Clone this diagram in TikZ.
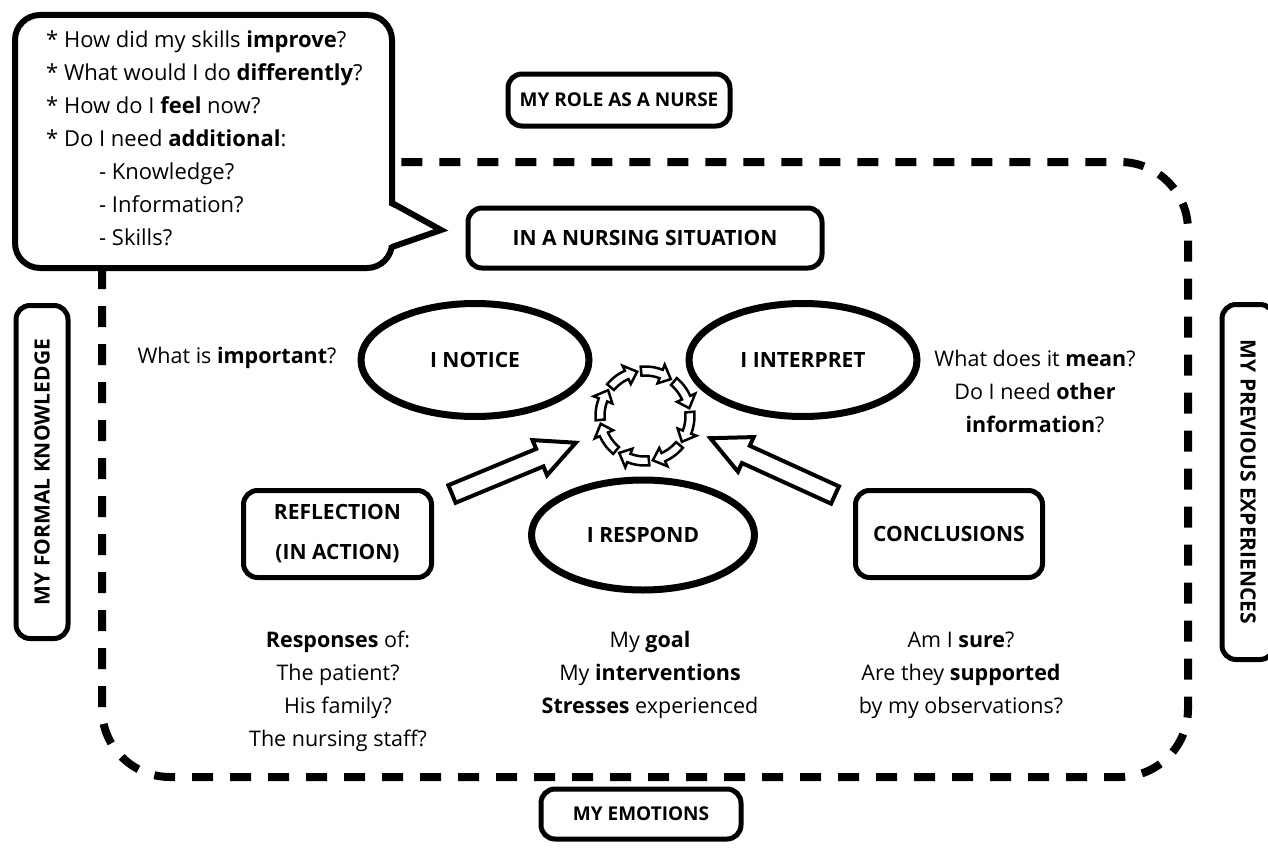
\documentclass[tikz,border=0pt]{standalone}
\usepackage{fontspec}
\setmainfont{Open Sans}
\usetikzlibrary{shapes.geometric}
\begin{document}
\begin{tikzpicture}[x=1pt,y=-1pt,
  box/.style={draw, line width=5pt, rounded corners=14pt, fill=white, inner sep=0pt,
    font=\fontsize{21}{40}\selectfont\bfseries, align=center},
  sidebox/.style={box, font=\fontsize{19}{24}\selectfont\bfseries},
  vertbox/.style={box, font=\fontsize{21}{24}\selectfont\bfseries},
  oval/.style={draw, ellipse, line width=7pt, fill=white, inner sep=0pt,
    minimum width=228, minimum height=113, font=\fontsize{21}{24}\selectfont\bfseries},
  body/.style={align=center, font=\fontsize{21.5}{33}\selectfont, inner sep=0pt},
  blockarrow/.style={draw, line width=4pt, fill=white, line join=miter},
  ringarrow/.style={draw, line width=2.5pt, fill=white, line join=miter}]
\useasboundingbox (0,0) rectangle (1268,867);

% dashed frame
\draw[line width=8pt, dash pattern=on 21pt off 17pt, rounded corners=68pt]
  (102,162) rectangle (1188,777);

% callout
\draw[line width=6pt, fill=white, rounded corners=25pt] (15,15) rectangle (392,268);
\fill[white] (386,204) -- (441,230) -- (386,246) -- cycle;
\draw[line width=6pt, line join=miter] (392,203) -- (441,230) -- (392,247);
\node[anchor=north west, align=left, inner sep=0pt, font=\fontsize{22}{33}\selectfont] (callout) at (46,31)
 {* How did my skills \textbf{improve}?\\
  * What would I do \textbf{differently}?\\
  * How do I \textbf{feel} now?\\
  * Do I need \textbf{additional}:\\
  \hspace*{53pt}- Knowledge?\\
  \hspace*{53pt}- Information?\\
  \hspace*{53pt}- Skills?};

% boxes
\node[sidebox, minimum width=222, minimum height=52] (role) at (619,100) {MY ROLE AS A NURSE};
\node[box, minimum width=354, minimum height=60] (sit) at (645,238) {IN A NURSING SITUATION};
\node[box, minimum width=188, minimum height=87] (refl) at (337.5,534) {REFLECTION\\(IN ACTION)};
\node[box, minimum width=187, minimum height=87] (concl) at (949,534) {CONCLUSIONS};
\node[vertbox, minimum width=333, minimum height=52, rotate=90] (formal) at (42,472) {MY FORMAL KNOWLEDGE};
\node[vertbox, minimum width=355, minimum height=52, rotate=-90] (prev) at (1248,482) {MY PREVIOUS EXPERIENCES};
\node[sidebox, minimum width=200, minimum height=50] (emo) at (641,814) {MY EMOTIONS};

% ellipses
\node[oval] (notice) at (475,360) {I NOTICE};
\node[oval] (interp) at (803,360) {I INTERPRET};
\node[oval, minimum width=223, minimum height=110] (respond) at (643,535) {I RESPOND};

% block arrows
\coordinate (la) at (452,494);
\coordinate (ra) at (835,495);
\begin{scope}[shift={(la)}, rotate=22.5]
  \draw[blockarrow] (0,-9.5) -- (95,-9.5) -- (95,-19) -- (134,0) -- (95,19) -- (95,9.5) -- (0,9.5) -- cycle;
\end{scope}
\begin{scope}[shift={(ra)}, rotate=155.5]
  \draw[blockarrow] (0,-9.5) -- (98,-9.5) -- (98,-19) -- (137,0) -- (98,19) -- (98,9.5) -- (0,9.5) -- cycle;
\end{scope}

% ring of arrows
\def\cx{645}\def\cy{416}\def\rr{45}
\foreach \a in {-140,-95,-50,-5,40,85,130,175}{
  \pgfmathsetmacro{\b}{\a+40}
  \pgfmathsetmacro{\h}{\a+26}
  \draw[ringarrow]
    plot[domain=\a:\h, samples=8] ({\cx+(\rr+4.5)*cos(\x)},{\cy+(\rr+4.5)*sin(\x)})
    -- ({\cx+(\rr+10)*cos(\h)},{\cy+(\rr+10)*sin(\h)})
    -- ({\cx+\rr*cos(\b)},{\cy+\rr*sin(\b)})
    -- ({\cx+(\rr-10)*cos(\h)},{\cy+(\rr-10)*sin(\h)})
    -- plot[domain=\h:\a, samples=8] ({\cx+(\rr-4.5)*cos(\x)},{\cy+(\rr-4.5)*sin(\x)})
    -- cycle;
}

% texts
\node[body] (imp) at (237,358) {What is \textbf{important}?};
\node[body] (mean) at (1035,391) {What does it \textbf{mean}?\\Do I need \textbf{other}\\\textbf{information}?};
\node[body] (resp) at (338,691) {\textbf{Responses} of:\\The patient?\\His family?\\The nursing staff?};
\node[body] (goal) at (650,675) {My \textbf{goal}\\My \textbf{interventions}\\\textbf{Stresses} experienced};
\node[body] (sure) at (961,675) {Am I \textbf{sure}?\\Are they \textbf{supported}\\by my observations?};
\end{tikzpicture}
\end{document}
